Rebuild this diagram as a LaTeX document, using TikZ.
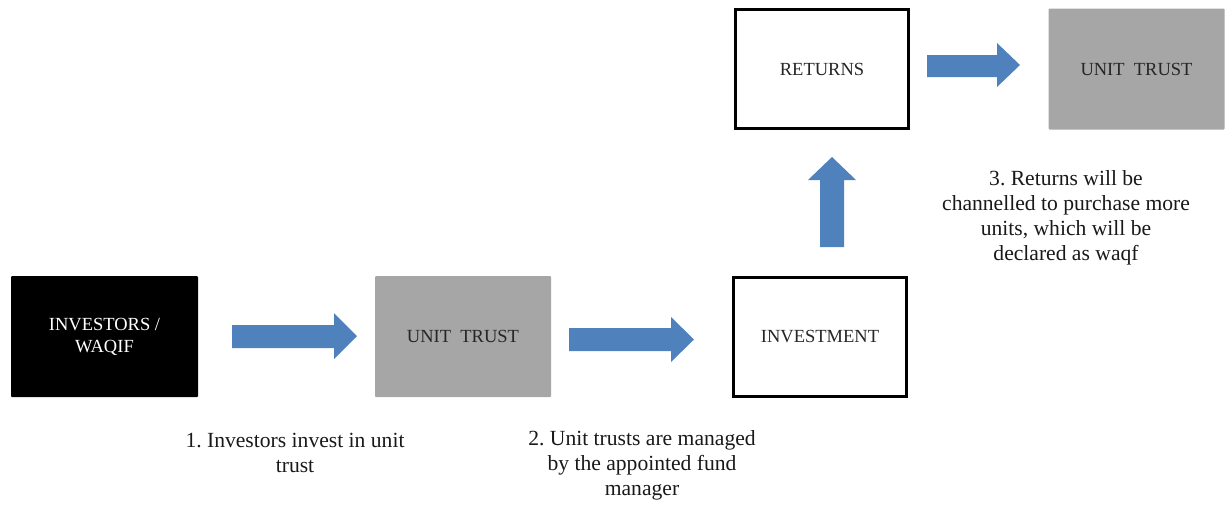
\documentclass[tikz,border=0pt]{standalone}
\usepackage{fontspec}
\setmainfont{Liberation Serif}
\frenchspacing
\definecolor{flowblue}{HTML}{4F81BD}
\definecolor{trustgray}{HTML}{A6A6A6}
\begin{document}
\begin{tikzpicture}[x=1pt,y=-1pt,
  boxbase/.style={rectangle,outer sep=0pt,inner sep=2pt,align=center,
    font=\fontsize{18.5}{22}\selectfont},
  darkbox/.style={boxbase,fill=black,text=white,rounded corners=1pt,
    minimum width=187pt,minimum height=121pt},
  greybox/.style={boxbase,fill=trustgray,text=black!85,rounded corners=1pt,
    minimum width=176pt,minimum height=121pt},
  framebox/.style={boxbase,draw=black,line width=3pt,fill=white,text=black!85,
    minimum width=173pt,minimum height=119pt},
  caption/.style={align=center,text=black!90,inner sep=0pt,
    font=\fontsize{21.6}{25}\selectfont},
  blockarrow/.style={fill=flowblue,draw=none}]
\useasboundingbox (0,0) rectangle (1225,504);

% process boxes
\node[darkbox]  (investors) at (104.5,336.5) {INVESTORS /\\WAQIF};
\node[greybox]  (trust)     at (463,336.5)   {UNIT\ \ TRUST};
\node[framebox] (invest)    at (820,336.5)   {INVESTMENT};
\node[framebox] (returns)   at (822,69)      {RETURNS};
\node[greybox]  (trusttop)  at (1136.5,69)   {UNIT\ \ TRUST};

% block arrows between the boxes
\fill[blockarrow] (232,325) -- (334,325) -- (334,313) -- (357,336)
  -- (334,359) -- (334,348) -- (232,348) -- cycle;
\fill[blockarrow] (569,328) -- (671,328) -- (671,317) -- (694,339.5)
  -- (671,362) -- (671,351) -- (569,351) -- cycle;
\fill[blockarrow] (820,247) -- (820,180) -- (808,180) -- (832,157)
  -- (856,180) -- (844,180) -- (844,247) -- cycle;
\fill[blockarrow] (927,55) -- (997,55) -- (997,43) -- (1020,65)
  -- (997,87) -- (997,77) -- (927,77) -- cycle;

% step descriptions
\node[caption] (step1) at (295,452.5)
  {1. Investors invest in unit\\trust};
\node[caption] (step2) at (642,465.5)
  {2. Unit trusts are managed\\by the appointed fund\\manager};
\node[caption] (step3) at (1066,218)
  {3. Returns will be\\channelled to purchase more\\units, which will be\\declared as waqf};
\end{tikzpicture}
\end{document}
